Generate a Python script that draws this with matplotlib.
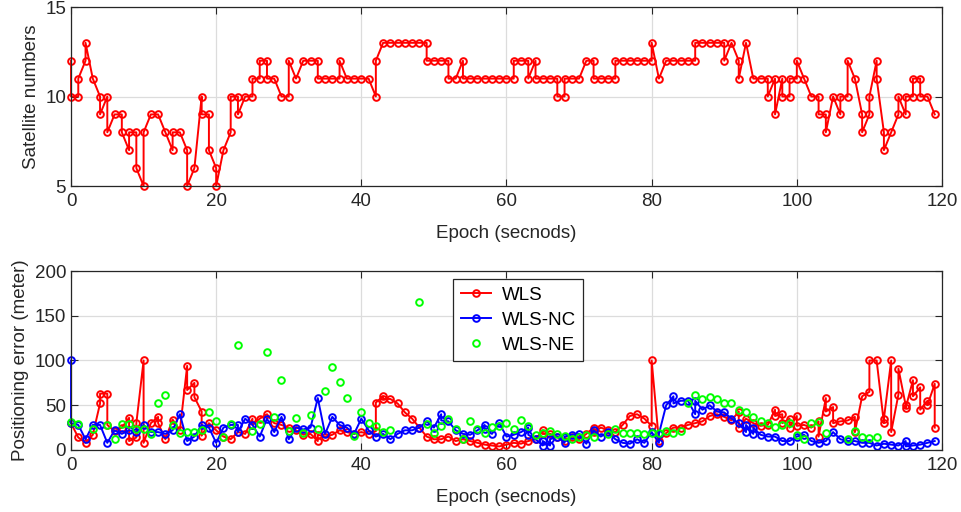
import matplotlib.pyplot as plt
import numpy as np

plt.rcParams['font.family'] = ['Liberation Sans', 'DejaVu Sans']

# Visible satellites per epoch (some epochs hold two readings)
sat_counts = [
    [12, 10], [10, 11], [12, 13], [11], [10, 9], [10, 8], [9], [9, 8], [7, 8], [8, 6],
    [5, 8], [9], [9], [8], [7, 8], [8], [7, 5], [6], [10, 9], [9, 7],
    [6, 5], [7], [8, 10], [10, 9], [10], [10, 11], [11, 12], [12, 11], [11], [10],
    [10, 12], [11], [12], [12], [12, 11], [11], [11], [11, 12], [11], [11],
    [11], [11], [10, 12], [13], [13], [13], [13], [13], [13], [13, 12],
    [12], [12], [12, 11], [11], [12, 11], [11], [11], [11], [11], [11],
    [11], [11, 12], [12], [12, 11], [12, 11], [11], [11], [11, 10], [10, 11], [11],
    [11], [12], [12, 11], [11], [11], [11, 12], [12], [12], [12], [12],
    [12, 13], [11], [12], [12], [12], [12], [12, 13], [13], [13], [13],
    [13, 12], [13], [12, 11], [13], [11], [11], [11, 10], [11, 9], [11, 10], [10, 11],
    [11, 12], [11], [10], [10, 9], [9, 8], [10], [9, 10], [10, 12], [11], [9, 8],
    [9, 10], [12, 11], [8, 7], [8], [9, 10], [9, 10], [10, 11], [11, 10], [10], [9],
]

# Positioning error (m) per epoch
wls_err = [
    [30], [14], [8], [17], [52, 63], [63, 28], [21], [25], [36, 10], [14, 30],
    [100, 8], [30], [37, 30], [12], [34], [22], [94, 67], [75, 59], [43, 16], [30],
    [22], [15], [12], [20], [18], [35, 28], [35], [40], [30], [28],
    [25], [22], [17], [18], [10, 17], [15], [17], [22], [20], [18],
    [20], [18], [21, 53], [60, 57], [57], [52], [42], [35], [25], [15],
    [12], [12], [15], [10], [12], [10], [8], [6], [5], [4],
    [6], [8], [7], [10], [12], [22, 18], [18], [15], [10], [15],
    [12], [18], [25, 20], [25], [22], [20], [28], [38], [40], [35],
    [27, 100], [10], [19], [25], [25], [28], [30], [32], [38], [40],
    [37], [33], [43, 25], [35], [30], [27], [28], [45, 38], [40, 30], [35, 25],
    [38, 27], [28], [25], [32, 15], [58, 43], [48, 30], [32], [33], [37, 20], [60],
    [65, 100], [100], [30, 35], [100, 20], [62, 91], [50, 47], [78, 60], [70, 45], [55, 50], [74, 25],
]

wls_nc_err = [
    [100, 30], [28], [12], [28], [28], [8], [22], [18], [22], [20],
    [28], [20], [20], [18], [22], [40], [10], [15], [28], [25],
    [8], [25], [28], [28, 20], [35], [28], [15], [35], [20], [37],
    [12], [25], [23], [25], [58], [18], [37], [28], [25], [18],
    [35], [22], [15], [18], [12], [18], [22], [22], [25], [32],
    [25], [40, 33], [32], [22], [18], [17], [22], [28, 23], [18], [30],
    [15], [17], [20], [25, 17], [12], [5, 10], [5, 12], [15], [8, 15], [17],
    [18], [7], [22], [15], [20], [12], [8], [7], [12], [8],
    [20], [8, 18], [50], [60, 52], [55], [55], [40, 55], [45], [50], [43],
    [42], [35], [30], [20, 28], [18, 25], [17], [15], [15], [10], [10],
    [15], [17], [10], [8], [10], [20], [12], [10], [10], [8],
    [8], [5], [7], [6], [5], [10, 4], [5], [6], [8], [10],
]

wls_ne_err = [
    31, 29, None, 23, None, 28, 12, 29, 29, 23,
    23, 18, 52, 62, 28, 19, 20, 20, 22, 42,
    32, 14, 29, 117, None, 21, 29, 110, 37, 78,
    21, 36, 19, 39, 23, 66, 93, 76, 58, 16,
    42, 30, 27, 20, 22, None, None, None, 165, 29,
    19, 27, 35, 24, 12, 32, 24, 19, 26, 27,
    30, 24, 34, 27, 17, 19, 21, 18, 16, 12,
    14, 17, 15, None, 18, 24, 19, 19, 19, 18,
    19, 19, 21, 19, 21, 53, 62, 57, 59, 57,
    53, 52, 45, 42, 37, 32, 30, 26, 28, 30,
    17, 12, 30, 31, 19, None, None, 12, 21, 14,
    13, 14, None, None, None, None, None, None, None, None,
]


def flatten(per_epoch):
    x, y = [], []
    for ep, vals in enumerate(per_epoch):
        for v in vals:
            x.append(ep)
            y.append(v)
    return x, y


axis_col = '#262626'
fs = 13.5
fig = plt.figure(figsize=(9.61, 5.12), dpi=100)
ax1 = fig.add_axes([0.0739, 0.6367, 0.9063, 0.3496])
ax2 = fig.add_axes([0.0739, 0.1211, 0.9063, 0.3496])

mk = dict(marker='o', markersize=4.8, markerfacecolor='none', markeredgewidth=1.4,
          clip_on=False)

sx, sy = flatten(sat_counts)
ax1.plot(sx, sy, color='red', linewidth=1.4, **mk)

rx, ry = flatten(wls_err)
bx, by = flatten(wls_nc_err)
gy = np.array([np.nan if v is None else v for v in wls_ne_err], dtype=float)
gx = np.arange(len(gy))
ax2.plot(rx, ry, color='red', linewidth=1.4, label='WLS', **mk)
ax2.plot(bx, by, color='blue', linewidth=1.4, label='WLS-NC', **mk)
ax2.plot(gx, gy, color='#00ff00', linestyle='none', label='WLS-NE', **mk)

ax1.set_ylim(5, 15)
ax1.set_yticks([5, 10, 15])
ax2.set_ylim(0, 200)
ax2.set_yticks([0, 50, 100, 150, 200])
ax1.set_ylabel('Satellite numbers', fontsize=fs, color=axis_col)
ax2.set_ylabel('Positioning error (meter)', fontsize=fs, color=axis_col)

for ax in (ax1, ax2):
    ax.set_xlim(0, 120)
    ax.set_xticks(np.arange(0, 121, 20))
    ax.set_xlabel('Epoch (secnods)', fontsize=fs, color=axis_col, labelpad=11)
    ax.grid(True, color='#dcdcdc', linewidth=0.9)
    ax.set_axisbelow(True)
    ax.tick_params(direction='in', length=5, width=0.8, top=True, right=True,
                   labelsize=fs, colors=axis_col)
    ax.tick_params(axis='x', pad=5)
    for sp in ax.spines.values():
        sp.set_color(axis_col)
        sp.set_linewidth(0.9)

leg = ax2.legend(loc='upper left', bbox_to_anchor=(0.4386, 0.955), borderaxespad=0,
                 fontsize=fs, fancybox=False, edgecolor=axis_col, framealpha=1,
                 handlelength=1.6, borderpad=0.4, labelspacing=0.42, handletextpad=0.6)
leg.get_frame().set_linewidth(0.9)

fig.savefig('out.png', dpi=100)
